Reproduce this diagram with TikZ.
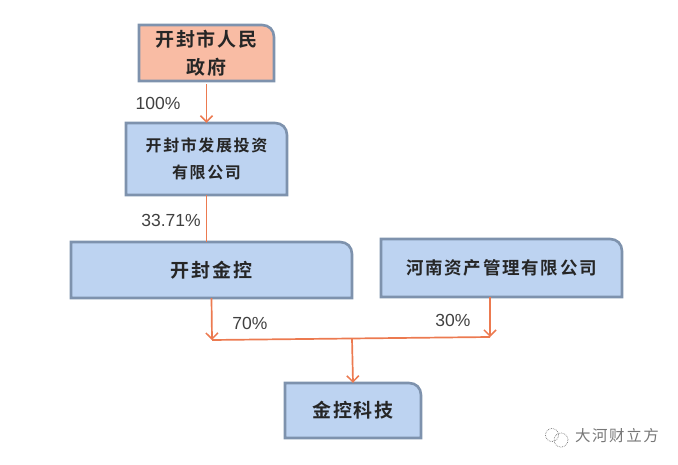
\documentclass[tikz,border=0pt]{standalone}
\usepackage{fontspec}
\usepackage{xcolor}
\usetikzlibrary{arrows.meta}
\newfontfamily\cjk[LetterSpace=10]{Noto Sans CJK SC}
\newfontfamily\cjkb[LetterSpace=10]{Noto Sans CJK SC Bold}
\setmainfont{Liberation Sans}
\definecolor{BoxBlue}{HTML}{BDD3F1}
\definecolor{BoxSalmon}{HTML}{F9BCA4}
\definecolor{BoxEdge}{HTML}{7E92AD}
\definecolor{LinkRed}{HTML}{EC7A50}
\definecolor{LabelGrey}{HTML}{404040}
\definecolor{MarkGrey}{HTML}{777777}
\tikzset{
  boxedge/.style={draw=BoxEdge,line width=2.6pt,line join=miter},
  link/.style={draw=LinkRed,line width=1.7pt},
  linkarrow/.style={link,-{Straight Barb[length=6pt,width=12pt,line width=1.5pt]}},
  share/.style={text=LabelGrey,font=\fontsize{17.5}{19}\selectfont,inner sep=0pt},
  orgname/.style={inner sep=0pt,align=center,text=black!85}
}

\begin{document}
\begin{tikzpicture}[x=1pt,y=-1pt]
  \useasboundingbox (0,0) rectangle (678,465);

  % Government (top)
  \draw[boxedge,fill=BoxSalmon] (139,81) -- (139,25) -- (262,25) .. controls (269,25) and (274,30) .. (274,37) -- (274,81) -- cycle;
  \node[orgname,minimum width=135pt,minimum height=56pt,font=\cjkb\fontsize{19}{28}\selectfont] (gov) at (206.5,53) {开封市人民\\政府};

  % Investment company
  \draw[boxedge,fill=BoxBlue] (126,195) -- (126,123) -- (275,123) .. controls (282,123) and (287,128) .. (287,135) -- (287,195) -- cycle;
  \node[orgname,minimum width=161pt,minimum height=72pt,font=\cjkb\fontsize{16}{27}\selectfont] (dev) at (206.5,159) {开封市发展投资\\有限公司};

  % Kaifeng holding
  \draw[boxedge,fill=BoxBlue] (71,298) -- (71,242) -- (340,242) .. controls (347,242) and (352,247) .. (352,254) -- (352,298) -- cycle;
  \node[orgname,minimum width=281pt,minimum height=56pt,font=\cjkb\fontsize{19}{24}\selectfont] (kfjk) at (211.5,270) {开封金控};

  % Henan asset management
  \draw[boxedge,fill=BoxBlue] (381,297) -- (381,239) -- (610,239) .. controls (617,239) and (622,244) .. (622,251) -- (622,297) -- cycle;
  \node[orgname,minimum width=241pt,minimum height=58pt,font=\cjkb\fontsize{17.5}{24}\selectfont] (hnzc) at (501.5,268) {河南资产管理有限公司};

  % Result company
  \draw[boxedge,fill=BoxBlue] (285,438) -- (285,383) -- (409,383) .. controls (416,383) and (421,388) .. (421,395) -- (421,438) -- cycle;
  \node[orgname,minimum width=136pt,minimum height=55pt,font=\cjkb\fontsize{19}{24}\selectfont] (jkkj) at (353,410.5) {金控科技};

  % Joints on the cross line
  \coordinate (kfend) at (212,340);
  \coordinate (hnend) at (490,337);
  \coordinate (joint) at (352,338.5);

  % Arrows
  \draw[linkarrow,shorten <=3pt] (gov.south) -- (dev.north);
  \draw[link] (dev.south) -- (dev.south |- kfjk.north);
  \draw[linkarrow] (kfjk.south) -- (kfend);
  \draw[linkarrow] ([xshift=-11.5pt]hnzc.south) -- (hnend);
  \draw[link] (kfend) -- (hnend);
  \draw[linkarrow] (joint) -- (jkkj.north);

  % Shares
  \node[share] (s100) at (158,103) {100\%};
  \node[share] (s33) at (171,220) {33.71\%};
  \node[share] (s70) at (250,323) {70\%};
  \node[share] (s30) at (453,320) {30\%};

  % Watermark
  \draw[MarkGrey,densely dotted,line width=0.7pt] (552,435) circle (6.5pt);
  \draw[MarkGrey,densely dotted,line width=0.7pt] (561,440) circle (7pt);
  \node[text=MarkGrey,inner sep=0pt,font=\cjk\fontsize{15.5}{18}\selectfont] (mark) at (617,436) {大河财立方};
\end{tikzpicture}
\end{document}
